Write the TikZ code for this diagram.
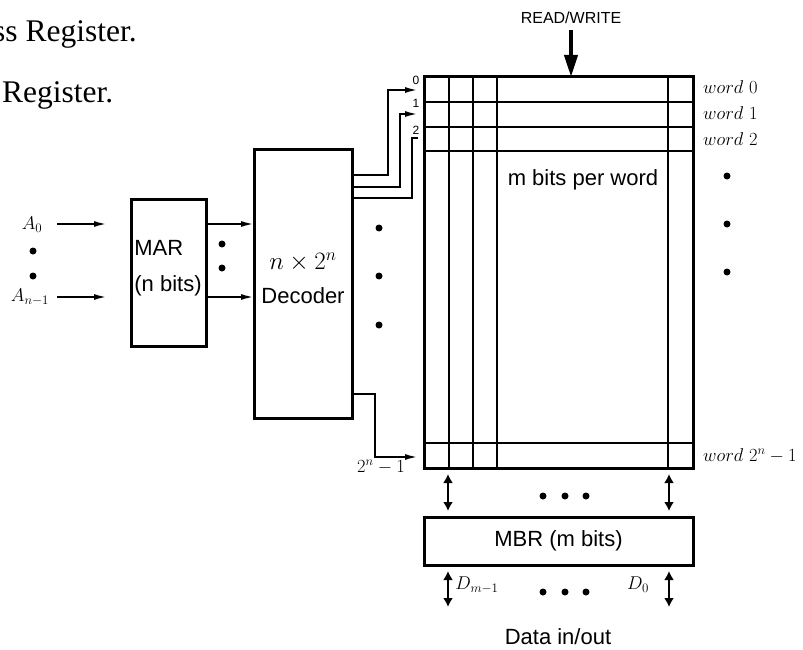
\RequirePackage{fix-cm}
\documentclass[tikz,border=0pt]{standalone}
\usepackage{fontspec}
\setsansfont{Liberation Sans}
\newfontfamily\timesrm{Liberation Serif}
\usetikzlibrary{arrows.meta,positioning}

\begin{document}
\begin{tikzpicture}[
  x=1pt, y=-1pt,
  >={Latex[length=13pt,width=6pt]},
  box/.style={draw, line width=3pt, anchor=north west, outer sep=0pt, inner sep=0pt},
  cell/.style={line width=2pt},
  wire/.style={->, line width=2pt},
  bus/.style={<->, line width=2pt, >={Latex[length=9pt,width=10pt]}},
  sans/.style={font=\sffamily\fontsize{22}{26}\selectfont},
  mth/.style={font=\fontsize{18.5}{22}\selectfont, inner sep=0pt},
  pdot/.style={circle, fill, inner sep=0pt, minimum size=7pt},
  bit/.style={font=\sffamily\fontsize{12}{14}\selectfont, inner sep=0pt}
]
\useasboundingbox (0,0) rectangle (803,650);

% text of the page, cut off at the left edge
\node[font=\timesrm\fontsize{31.5}{36}\selectfont, anchor=base west, inner sep=0pt] (line1) at (-7,42) {ss Register.};
\node[font=\timesrm\fontsize{31.5}{36}\selectfont, anchor=base west, inner sep=0pt] (line2) at (2,103) {Register.};

% boxes
\node[box, minimum width=75pt, minimum height=147pt] (mar) at (131,199) {};
\node[box, minimum width=98pt, minimum height=268pt] (dec) at (254,150) {};
\node[box, minimum width=269pt, minimum height=391pt] (mem) at (424,77) {};
\node[box, sans, minimum width=269pt, minimum height=48pt] (mbr) at (424,517) {MBR (m bits)};

\node[sans, align=left] (martxt) at (168,268) {MAR\\[10pt](n bits)};
\node[sans, align=center] (dectxt) at (303,278) {{\fontsize{25}{30}\selectfont$n\times2^n$}\\[8pt]Decoder};
\node[sans] (memtxt) at (583,180) {m bits per word};

% cells of the array
\foreach \gy in {102,127,151,443}
  \draw[cell] (424,\gy) -- (693,\gy);
\foreach \gx in {449,473,497,668}
  \draw[cell] (\gx,77) -- (\gx,468);

% read/write
\node[font=\sffamily\fontsize{16}{19}\selectfont] (rw) at (571,18) {READ/WRITE};
\draw[line width=4pt, -{Triangle[length=22pt,width=13pt]}, shorten <=3pt] (rw.south) -- (rw.south |- mem.north);

% address inputs
\node[mth] (a0) at (32,225) {$A_0$};
\node[mth] (an) at (30,297) {$A_{n-1}$};
\node[pdot] (ad1) at (33,251) {};
\node[pdot] (ad2) at (33,276) {};
\draw[wire] (a0) ++(25,-1) -- ++(50,0);
\draw[wire] (an) ++(27,0) -- ++(50,0);

% MAR to decoder
\draw[wire] (mar.east |- 0,224) -- (dec.west |- 0,224);
\draw[wire] (mar.east |- 0,297) -- (dec.west |- 0,297);
\node[pdot] (md1) at (222,244) {};
\node[pdot] (md2) at (222,268) {};

% decoder outputs
\coordinate (r0) at (418,90);
\coordinate (r1) at (418,114);
\coordinate (r2) at (418,138);
\coordinate (rn) at (418,457);
\draw[wire] ([yshift=-25pt]dec.north east) -- ++(36,0) |- (r0);
\draw[wire] ([yshift=-37pt]dec.north east) -- ++(48,0) |- (r1);
\draw[line width=2pt] ([yshift=-48pt]dec.north east) -- ++(60,0) |- (r2);
\draw[wire] ([yshift=-244pt]dec.north east) -- ++(23,0) |- (rn);
\node[bit] (b0) at (416,80) {0};
\node[bit] (b1) at (416,103) {1};
\node[bit] (b2) at (416,130) {2};
\node[mth] (bn) at (381,467) {$2^n-1$};
\node[pdot] (dd1) at (379,228) {};
\node[pdot] (dd2) at (379,276) {};
\node[pdot] (dd3) at (379,325) {};

% word labels
\node[mth, anchor=base west] (w0) at (703,94) {$word~0$};
\node[mth, anchor=base west] (w1) at (703,120) {$word~1$};
\node[mth, anchor=base west] (w2) at (703,146) {$word~2$};
\node[mth, anchor=base west] (wn) at (703,461) {$word~2^n-1$};
\node[pdot] (wd1) at (727,176) {};
\node[pdot] (wd2) at (727,224) {};
\node[pdot] (wd3) at (727,272) {};

% memory to MBR
\draw[bus, shorten <=6pt, shorten >=6pt] ([xshift=24pt]mem.south west) -- ([xshift=24pt]mbr.north west);
\draw[bus, shorten <=6pt, shorten >=6pt] ([xshift=-24pt]mem.south east) -- ([xshift=-24pt]mbr.north east);
\node[pdot] (bd1) at (543,496) {};
\node[pdot] (bd2) at (565,496) {};
\node[pdot] (bd3) at (586,496) {};

% data lines
\coordinate (dm) at (448,607);
\coordinate (dz) at (669,607);
\draw[bus, shorten <=6pt] (mbr.south west -| dm) -- (dm);
\draw[bus, shorten <=6pt] (mbr.south west -| dz) -- (dz);
\node[mth] (dml) at (477,585) {$D_{m-1}$};
\node[mth] (dzl) at (638,585) {$D_0$};
\node[pdot] (xd1) at (543,592) {};
\node[pdot] (xd2) at (565,592) {};
\node[pdot] (xd3) at (586,592) {};
\node[sans] (io) at (558,637) {Data in/out};
\end{tikzpicture}
\end{document}
